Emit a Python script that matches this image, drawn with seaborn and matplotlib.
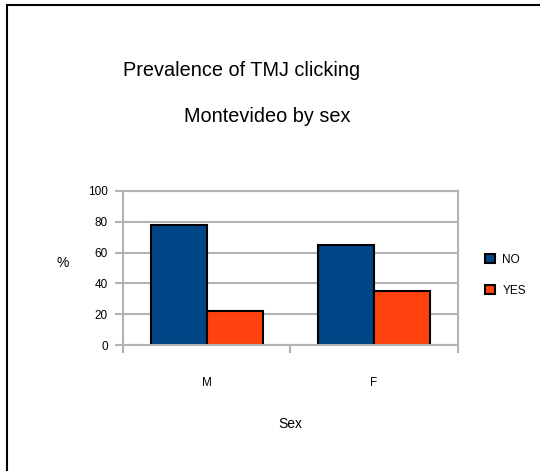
import matplotlib
matplotlib.use("Agg")
import matplotlib.pyplot as plt
from matplotlib.lines import Line2D
import seaborn as sns
import pandas as pd

# values
sexes = ["M", "F"]
answers = ["NO", "YES"]
no_pct = [78, 65]
yes_pct = [22, 35]
y_ticks = [0, 20, 40, 60, 80, 100]
colors = ["#004586", "#ff420e"]


def main():
    sns.set_theme(style="white")
    plt.rcParams["font.family"] = ["Liberation Sans", "DejaVu Sans"]
    plt.rcParams["text.color"] = "black"
    plt.rcParams["xtick.labelcolor"] = "black"
    plt.rcParams["ytick.labelcolor"] = "black"

    df = pd.DataFrame({
        "Sex": sexes * 2,
        "Answer": [answers[0]] * 2 + [answers[1]] * 2,
        "pct": no_pct + yes_pct,
    })

    fig = plt.figure(figsize=(5.4, 4.71), dpi=100)
    ax = fig.add_axes([0.2278, 0.2675, 0.620, 0.327])

    grid_c = "#b3b3b3"
    ax.set_axisbelow(True)
    ax.yaxis.grid(True, color=grid_c, linewidth=1.5)

    sns.barplot(data=df, x="Sex", y="pct", hue="Answer", order=sexes,
                hue_order=answers, palette=colors, saturation=1,
                width=0.667, edgecolor="black", linewidth=1.5, ax=ax)

    ax.set_xlim(-0.5, 1.5)
    ax.set_ylim(0, 100)
    ax.set_yticks(y_ticks)
    ax.tick_params(axis="y", which="major", length=6, width=1.5,
                   color=grid_c, direction="out", labelsize=8.5, pad=5,
                   left=True, labelcolor="black")

    # category labels centred, boundary tick marks as minor ticks
    ax.set_xticks([0, 1])
    ax.set_xticklabels(sexes)
    ax.set_xticks([-0.5, 0.5, 1.5], minor=True)
    ax.tick_params(axis="x", which="major", length=0, labelsize=8.5, pad=23,
                   labelcolor="black")
    ax.tick_params(axis="x", which="minor", length=6, width=1.5,
                   color=grid_c, direction="out", bottom=True)

    for side in ["left", "right", "bottom", "top"]:
        ax.spines[side].set_color(grid_c)
        ax.spines[side].set_linewidth(1.5)

    ax.set_xlabel("")
    ax.set_ylabel("")
    fig.text(290 / 540, 1 - 424 / 471, "Sex", ha="center", va="center",
             fontsize=10, color="black")
    fig.text(63 / 540, 1 - 263 / 471, "%", ha="center", va="center",
             fontsize=10, color="black")

    fig.text(242 / 540, 1 - 70 / 471, "Prevalence of TMJ clicking",
             ha="center", va="center", fontsize=14.3, color="black")
    fig.text(267 / 540, 1 - 116 / 471, "Montevideo by sex",
             ha="center", va="center", fontsize=14.3, color="black")

    handles, labels = ax.get_legend_handles_labels()
    ax.get_legend().remove()
    leg = fig.legend(handles, labels, loc="upper left",
                     bbox_to_anchor=(474 / 540, 1 - 243 / 471),
                     frameon=False, fontsize=8.5, handlelength=0.9,
                     handleheight=0.9, handletextpad=0.6, labelspacing=1.6)
    for t in leg.get_texts():
        t.set_color("black")

    # outer frame lines seen on the left and top edges
    fig.add_artist(Line2D([7 / 540, 1], [1 - 5 / 471, 1 - 5 / 471],
                          transform=fig.transFigure, color="black",
                          linewidth=1.5))
    fig.add_artist(Line2D([7 / 540, 7 / 540], [0, 1 - 5 / 471],
                          transform=fig.transFigure, color="black",
                          linewidth=1.5))

    fig.savefig("out.png", dpi=100)
    plt.close(fig)


if __name__ == "__main__":
    main()
